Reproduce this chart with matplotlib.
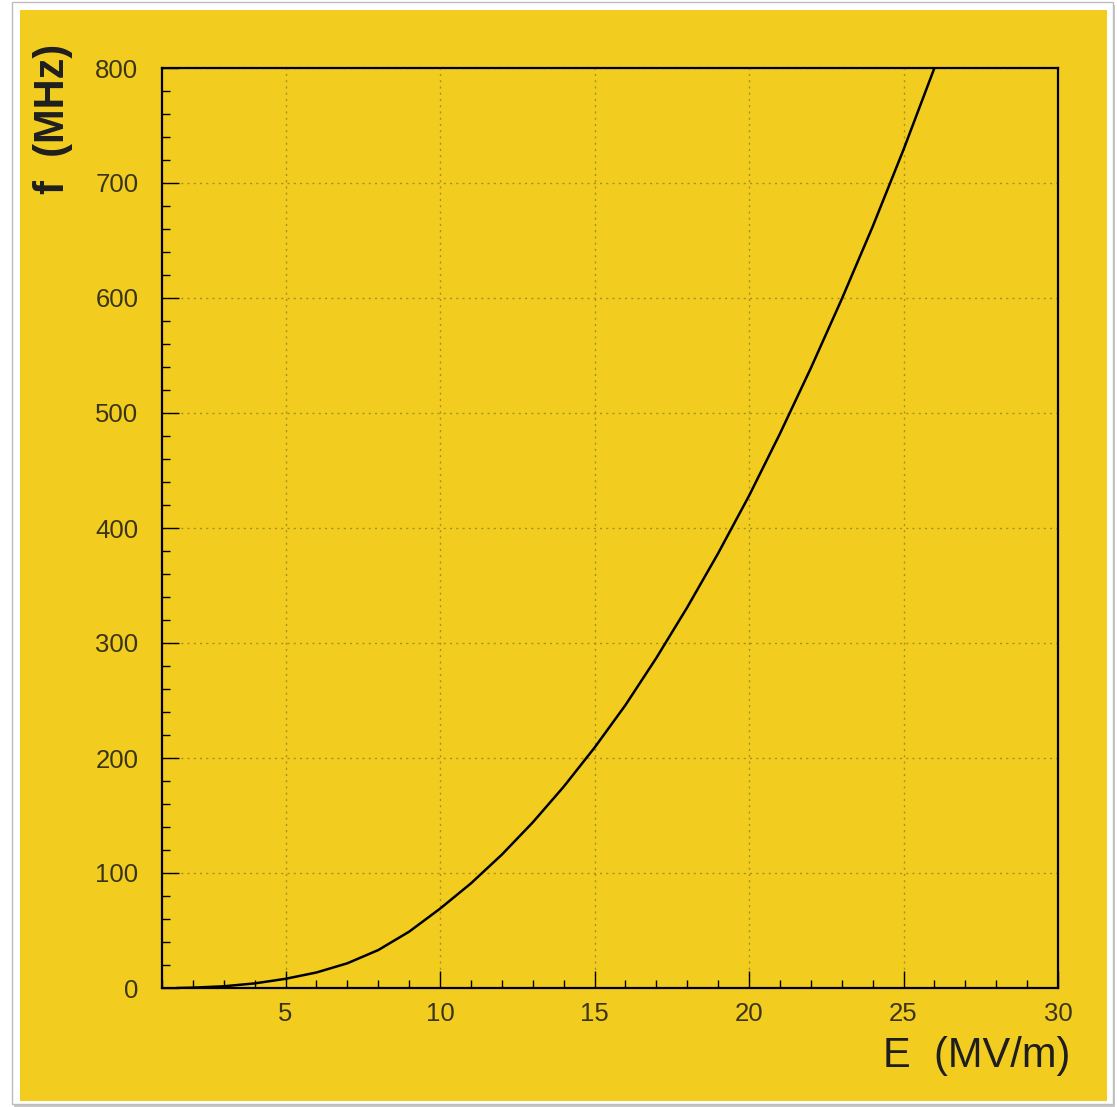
import matplotlib.pyplot as plt
from matplotlib.patches import Rectangle
from matplotlib.ticker import MultipleLocator

# field E (MV/m) against frequency f (MHz)
field_mv_m = [1.5, 2, 3, 4, 5, 6, 7, 8, 9, 10, 11, 12, 13,
              14, 15, 16, 17, 18, 19, 20, 21, 22, 23, 24, 25, 26]
freq_mhz = [0.0, 0.3, 1.5, 4.0, 8.0, 13.5, 21.5, 33, 49, 69, 91, 116, 144,
            175, 209, 246, 287, 331, 378, 428, 482, 539, 599, 662, 729, 800]

x_ticks = [5, 10, 15, 20, 25, 30]
y_ticks = [0, 100, 200, 300, 400, 500, 600, 700, 800]

W, H = 1117, 1107
paper = '#f2cd20'
ink = '#3b3518'

plt.rcParams['font.family'] = ['Liberation Sans', 'DejaVu Sans']

fig = plt.figure(figsize=(W / 100, H / 100), dpi=100)
fig.patch.set_facecolor('white')

# card with a soft shadow, then the yellow pad (kept under the axes)
fig.patches.append(Rectangle((14 / W, 0), 1101 / W, 1102 / H, transform=fig.transFigure,
                             facecolor='#c8c8c8', edgecolor='none', zorder=-10))
fig.patches.append(Rectangle((12 / W, 3 / H), 1101 / W, 1102 / H, transform=fig.transFigure,
                             facecolor='white', edgecolor='#bdbdbd', lw=1.0, zorder=-9))
fig.patches.append(Rectangle((20 / W, 1 - 1101 / H), 1087 / W, 1091 / H, transform=fig.transFigure,
                             facecolor=paper, edgecolor='none', zorder=-8))

ax = fig.add_axes([162 / W, 1 - 988 / H, (1058 - 162) / W, (988 - 68) / H])
ax.set_zorder(1)
ax.set_facecolor(paper)

ax.plot(field_mv_m, freq_mhz, color='black', lw=1.8, zorder=3)

ax.set_xlim(1, 30)
ax.set_ylim(0, 800)
ax.set_xticks(x_ticks)
ax.set_yticks(y_ticks)
ax.xaxis.set_minor_locator(MultipleLocator(1))
ax.yaxis.set_minor_locator(MultipleLocator(20))

ax.grid(True, which='major', color='#8c7c22', lw=1.0, linestyle=(0, (1.5, 3)), alpha=0.75)

ax.tick_params(which='both', direction='in', color='black', width=1.0,
               labelsize=18.5, labelcolor=ink)
ax.tick_params(which='major', length=12)
ax.tick_params(which='minor', length=6)
ax.tick_params(axis='x', which='major', pad=10)
ax.tick_params(axis='y', which='major', pad=17)

for s in ax.spines.values():
    s.set_linewidth(1.6)
    s.set_color('black')

fig.text(1070 / W, 1 - 1056 / H, 'E  (MV/m)', fontsize=30, color='#1e1e1e',
         ha='right', va='center')
fig.text(53 / W, 1 - 44 / H, 'f  (MHz)', fontsize=30, fontweight='bold', color='#1e1e1e',
         rotation=90, ha='center', va='top')

fig.savefig('out.png', dpi=100, facecolor=fig.get_facecolor())
